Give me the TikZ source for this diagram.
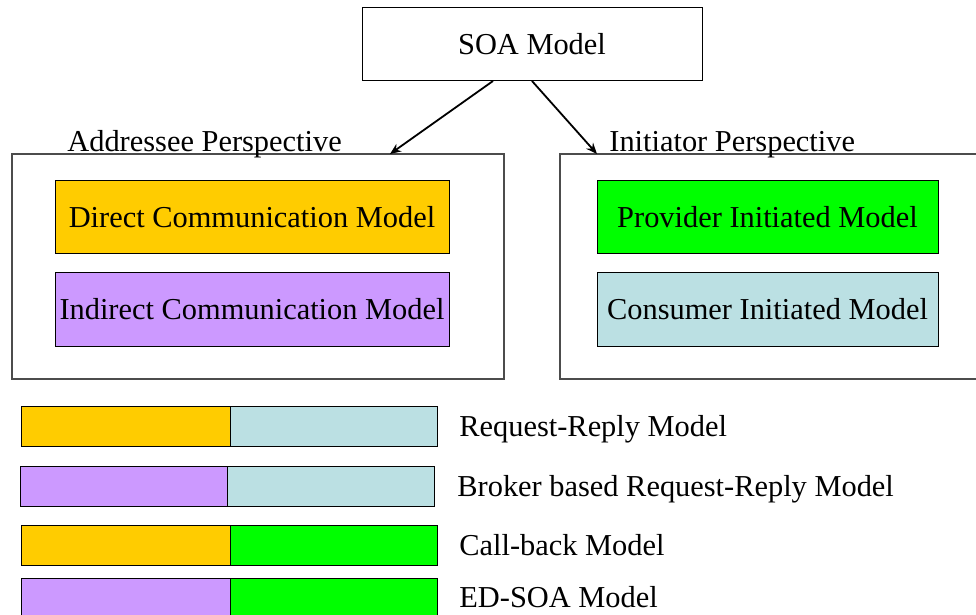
\documentclass[tikz,border=0pt]{standalone}
\usepackage{fontspec}
\setmainfont{Liberation Serif}
\usepackage{xcolor}
\usetikzlibrary{arrows.meta, positioning}
\definecolor{directc}{RGB}{255,204,0}
\definecolor{indirectc}{RGB}{204,153,255}
\definecolor{providerc}{RGB}{0,255,0}
\definecolor{consumerc}{RGB}{187,224,227}
\tikzstyle{box}     = [rectangle, draw=black, line width=0.5pt, inner sep=0pt,
                       outer sep=0pt, text height=10pt, text depth=0pt,
                       font=\fontsize{15.2}{18}\selectfont]
\tikzstyle{persp}   = [rectangle, draw=black!70, line width=0.8pt, outer sep=0pt,
                       minimum height=112.5pt]
\tikzstyle{model}   = [box, minimum height=36.5pt]
\tikzstyle{half}    = [box, minimum height=20pt]
\tikzstyle{caption} = [inner sep=0pt, anchor=base west,
                       font=\fontsize{15.2}{18}\selectfont]
\tikzstyle{arrow}   = [line width=0.9pt, -{Stealth[length=5.5pt, width=4.5pt]}]

\begin{document}
\begin{tikzpicture}[x=0.5pt, y=-0.5pt]
  \useasboundingbox (0,0) rectangle (976,615);
  \clip (0,0) rectangle (976,615);

  \node[box, minimum width=170pt, minimum height=36.5pt] (soa) at (532,44.5) {SOA Model};

  % the two perspectives
  \node[persp, minimum width=246pt] (addr) at (258,266.5) {};
  \node[persp, minimum width=220pt] (init) at (780,266.5) {};
  \node[caption] (addrlbl) at (67,152) {Addressee Perspective};
  \node[caption] (initlbl) at (609,152) {Initiator Perspective};

  \node[model, minimum width=197pt, fill=directc]   (direct)   at (252,217.5) {Direct Communication Model};
  \node[model, minimum width=197pt, fill=indirectc] (indirect) at (252,309.5) {Indirect Communication Model};
  \node[model, minimum width=170.5pt, fill=providerc] (provider) at (767.5,217.5) {Provider Initiated Model};
  \node[model, minimum width=170.5pt, fill=consumerc] (consumer) at (767.5,309.5) {Consumer Initiated Model};

  \draw[arrow] ([xshift=-19.5pt]soa.south) -- ([xshift=66pt]addr.north);
  \draw[arrow] (soa.south) -- ([xshift=18.5pt]init.north west);

  % combined models
  \node[half, minimum width=104.5pt, fill=directc]   (rra) at (125.5,426) {};
  \node[half, minimum width=103.5pt, fill=consumerc] (rrb) at (333.5,426) {};
  \node[caption] (rrlbl) at (459,437) {Request-Reply Model};

  \node[half, minimum width=103.5pt, fill=indirectc] (bra) at (123.5,486) {};
  \node[half, minimum width=103.5pt, fill=consumerc] (brb) at (330.5,486) {};
  \node[caption] (brlbl) at (457,496) {Broker based Request-Reply Model};

  \node[half, minimum width=104.5pt, fill=directc]   (cba) at (125.5,545) {};
  \node[half, minimum width=103.5pt, fill=providerc] (cbb) at (333.5,545) {};
  \node[caption] (cblbl) at (459,555) {Call-back Model};

  \node[half, minimum width=104.5pt, fill=indirectc] (eda) at (125.5,598) {};
  \node[half, minimum width=103.5pt, fill=providerc] (edb) at (333.5,598) {};
  \node[caption] (edlbl) at (459,607) {ED-SOA Model};
\end{tikzpicture}
\end{document}
